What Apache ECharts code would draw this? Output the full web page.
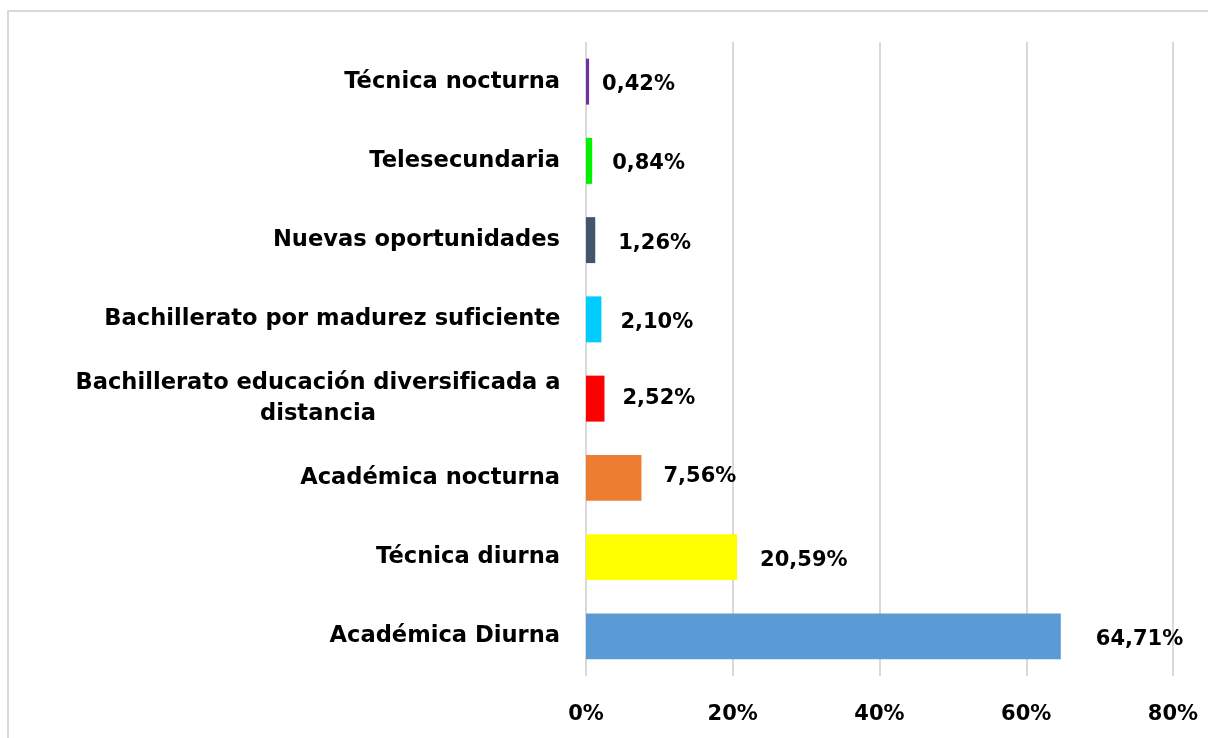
<!DOCTYPE html>
<html lang="es" style="height: 100%">
<head>
    <meta charset="utf-8">
    <title>Modalidades</title>
    <script src="https://cdn.jsdelivr.net/npm/echarts@6/dist/echarts.min.js"></script>
    <style>
        html, body { margin: 0; padding: 0; background: #fff; }
        #chart { width: 1208px; height: 738px; }
    </style>
</head>
<body>
<div id="chart"></div>
<script type="text/javascript">
    // datos (de abajo hacia arriba, como en el eje)
    var categorias = [
        'Académica Diurna',
        'Técnica diurna',
        'Académica nocturna',
        'Bachillerato educación diversificada a\ndistancia',
        'Bachillerato por madurez suficiente',
        'Nuevas oportunidades',
        'Telesecundaria',
        'Técnica nocturna'
    ];
    var porcentajes = [64.71, 20.59, 7.56, 2.52, 2.10, 1.26, 0.84, 0.42];
    var colores = ['#5B9BD5', '#FFFF00', '#ED7D31', '#FF0000', '#00CCFF', '#44546A', '#00F000', '#7030A0'];
    var ticks = [0, 20, 40, 60, 80];
    // ajuste manual de las etiquetas (como en el original)
    var nudgeX = [15, 3, 2, -2, -1, 3, 0, -7];
    var nudgeY = [3, 3, -1, 0, 3, 3, 3, 3];

    var fuente = 'DejaVu Sans';
    var chart = echarts.init(document.getElementById('chart'), null, { renderer: 'canvas' });

    var option = {
        animation: false,
        graphic: [{
            type: 'rect',
            shape: { x: 8, y: 11, width: 1400, height: 900 },
            style: { fill: 'none', stroke: '#D9D9D9', lineWidth: 2 },
            silent: true
        }],
        grid: { left: 586, right: 35, top: 42, bottom: 62, containLabel: false },
        xAxis: {
            type: 'value',
            min: ticks[0],
            max: ticks[ticks.length - 1],
            interval: 20,
            axisLine: { show: false },
            axisTick: { show: false },
            splitLine: { lineStyle: { color: '#D9D9D9', width: 2 } },
            axisLabel: {
                margin: 28,
                color: '#000',
                fontFamily: fuente,
                fontWeight: 'bold',
                fontSize: 21,
                formatter: function (v) { return v + '%'; }
            }
        },
        yAxis: {
            type: 'category',
            data: categorias,
            axisLine: { show: false },
            axisTick: { show: false },
            axisLabel: {
                margin: 26,
                color: '#000',
                fontFamily: fuente,
                fontWeight: 'bold',
                fontSize: 22.6,
                lineHeight: 31,
                formatter: function (v) {
                    return v.split('\n').map(function (l) { return '{c|' + l + '}'; }).join('\n');
                },
                rich: {
                    c: {
                        align: 'center',
                        color: '#000',
                        fontFamily: fuente,
                        fontWeight: 'bold',
                        fontSize: 22.6,
                        lineHeight: 31
                    }
                }
            }
        },
        series: [{
            type: 'bar',
            barCategoryGap: '42%',
            data: porcentajes.map(function (v, i) {
                return {
                    value: v,
                    itemStyle: { color: colores[i] },
                    label: { offset: [nudgeX[i], nudgeY[i]] }
                };
            }),
            label: {
                show: true,
                position: 'right',
                distance: 20,
                color: '#000',
                fontFamily: fuente,
                fontWeight: 'bold',
                fontSize: 21,
                formatter: function (p) {
                    return p.value.toFixed(2).replace('.', ',') + '%';
                }
            }
        }]
    };
    chart.setOption(option);
</script>
</body>
</html>
